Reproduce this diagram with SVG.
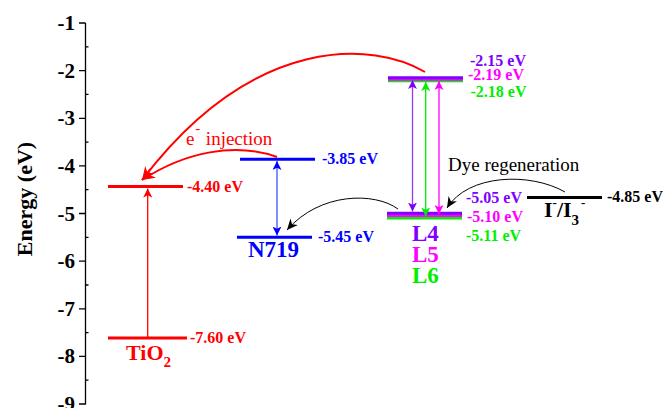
<svg xmlns="http://www.w3.org/2000/svg" width="663" height="408" viewBox="0 0 663 408">
<style>
text{font-family:"Liberation Serif","Times New Roman",serif;}
.b{font-weight:bold;}
.tick{font-size:21px;font-weight:bold;text-anchor:end;fill:#000;}
.lab{font-size:16px;font-weight:bold;}
.lvl{stroke-width:3;fill:none;}
.thin{stroke-width:1.3;fill:none;}
.ax{stroke:#000;stroke-width:1.3;fill:none;}
</style>
<defs>
<marker id="aR" viewBox="0 0 10 10" refX="10" refY="5" markerWidth="9" markerHeight="9" markerUnits="userSpaceOnUse" orient="auto"><path d="M0,0 L10,5 L0,10 L2.5,5 Z" fill="#FF0000"/></marker>
<marker id="aRb" viewBox="0 0 10 10" refX="10" refY="5" markerWidth="13" markerHeight="13" markerUnits="userSpaceOnUse" orient="auto"><path d="M0,0.5 L10,5 L0,9.5 L3,5 Z" fill="#FF0000"/></marker>
<marker id="aB" viewBox="0 0 10 10" refX="10" refY="5" markerWidth="9" markerHeight="9" markerUnits="userSpaceOnUse" orient="auto-start-reverse"><path d="M0,0 L10,5 L0,10 L2.5,5 Z" fill="#0000FF"/></marker>
<marker id="aP" viewBox="0 0 10 10" refX="10" refY="5" markerWidth="9" markerHeight="9" markerUnits="userSpaceOnUse" orient="auto-start-reverse"><path d="M0,0 L10,5 L0,10 L2.5,5 Z" fill="#8000FF"/></marker>
<marker id="aM" viewBox="0 0 10 10" refX="10" refY="5" markerWidth="9" markerHeight="9" markerUnits="userSpaceOnUse" orient="auto-start-reverse"><path d="M0,0 L10,5 L0,10 L2.5,5 Z" fill="#FF00FF"/></marker>
<marker id="aG" viewBox="0 0 10 10" refX="10" refY="5" markerWidth="9" markerHeight="9" markerUnits="userSpaceOnUse" orient="auto-start-reverse"><path d="M0,0 L10,5 L0,10 L2.5,5 Z" fill="#00EE00"/></marker>
<marker id="aK" viewBox="0 0 10 10" refX="10" refY="5" markerWidth="11" markerHeight="11" markerUnits="userSpaceOnUse" orient="auto"><path d="M0,0.5 L10,5 L0,9.5 L3,5 Z" fill="#000"/></marker>
</defs>

<g id="axis">
<path class="ax" d="M85.5,23 V404.5"/>
<path class="ax" d="M79,23 H85.5 M79,70.6 H85.5 M79,118.3 H85.5 M79,165.9 H85.5 M79,213.5 H85.5 M79,261.1 H85.5 M79,308.8 H85.5 M79,356.4 H85.5 M79,404 H85.5"/>
<path class="ax" d="M85.5,46.8 H88.5 M85.5,94.4 H88.5 M85.5,142.1 H88.5 M85.5,189.7 H88.5 M85.5,237.3 H88.5 M85.5,285 H88.5 M85.5,332.6 H88.5 M85.5,380.2 H88.5"/>
<text class="tick" x="75" y="30">-1</text>
<text class="tick" x="75" y="77.6">-2</text>
<text class="tick" x="75" y="125.3">-3</text>
<text class="tick" x="75" y="172.9">-4</text>
<text class="tick" x="75" y="220.5">-5</text>
<text class="tick" x="75" y="268.1">-6</text>
<text class="tick" x="75" y="315.8">-7</text>
<text class="tick" x="75" y="363.4">-8</text>
<text class="tick" x="75" y="411">-9</text>
<text class="b" font-size="22" text-anchor="middle" transform="translate(32,199) rotate(-90)">Energy (eV)</text>
</g>

<g id="tio2">
<line class="lvl" x1="108" y1="186.5" x2="183" y2="186.5" stroke="#FF0000"/>
<line class="lvl" x1="108" y1="338" x2="187" y2="338" stroke="#FF0000"/>
<text class="lab" x="187" y="191.5" fill="#FF0000">-4.40 eV</text>
<text class="lab" x="190" y="343" fill="#FF0000">-7.60 eV</text>
<text class="b" x="126" y="360" font-size="22" fill="#FF0000">TiO<tspan font-size="15" dy="7">2</tspan></text>
</g>

<g id="n719">
<line class="lvl" x1="240" y1="159.3" x2="315" y2="159.3" stroke="#0000FF"/>
<line class="lvl" x1="237" y1="237.3" x2="312" y2="237.3" stroke="#0000FF"/>
<text class="lab" x="322" y="163.5" fill="#0000FF">-3.85 eV</text>
<text class="lab" x="318" y="241.5" fill="#0000FF">-5.45 eV</text>
<text class="b" x="248" y="257" font-size="23" fill="#0000FF">N719</text>
</g>

<g id="dyes">
<line class="lvl" x1="388" y1="80.7" x2="463" y2="80.7" stroke="#00EE00"/>
<line class="lvl" x1="388" y1="79.3" x2="463" y2="79.3" stroke="#FF00FF"/>
<line class="lvl" x1="388" y1="77.8" x2="463" y2="77.8" stroke="#8000FF"/>
<line class="lvl" x1="387" y1="218" x2="462" y2="218" stroke="#00EE00"/>
<line class="lvl" x1="387" y1="215.6" x2="462" y2="215.6" stroke="#FF00FF"/>
<line class="lvl" x1="387" y1="213.2" x2="462" y2="213.2" stroke="#8000FF"/>
<text class="lab" x="470" y="65.5" fill="#8000FF">-2.15 eV</text>
<text class="lab" x="468" y="80" fill="#FF00FF">-2.19 eV</text>
<text class="lab" x="470.5" y="97" fill="#00EE00">-2.18 eV</text>
<text class="lab" x="466" y="203" fill="#8000FF">-5.05 eV</text>
<text class="lab" x="467" y="221.5" fill="#FF00FF">-5.10 eV</text>
<text class="lab" x="466" y="240.5" fill="#00EE00">-5.11 eV</text>
<text class="b" x="412" y="241" font-size="23" fill="#8000FF">L4</text>
<text class="b" x="412" y="262" font-size="23" fill="#FF00FF">L5</text>
<text class="b" x="412" y="283" font-size="23" fill="#00EE00">L6</text>
</g>

<g id="redox">
<line class="lvl" x1="527" y1="197.5" x2="602" y2="197.5" stroke="#000"/>
<text class="lab" x="607" y="202" fill="#000">-4.85 eV</text>
<text class="b" x="544" y="217" font-size="22" fill="#000">I<tspan font-size="13" dy="-10">-</tspan><tspan dy="10">/I</tspan><tspan font-size="15" dy="8">3</tspan><tspan font-size="13" dy="-18" dx="2">-</tspan></text>
</g>

<g id="labels">
<text x="186" y="145" font-size="19" fill="#FF0000">e<tspan font-size="14" dy="-12" dx="1">-</tspan><tspan dy="12" dx="1"> injection</tspan></text>
<text x="448" y="171" font-size="19" fill="#000">Dye regeneration</text>
</g>

<g id="connectors">
<line class="thin" x1="147.7" y1="338" x2="147.7" y2="188.5" stroke="#FF0000" marker-end="url(#aR)"/>
<line class="thin" x1="277" y1="161" x2="277" y2="235.5" stroke="#3355FF" marker-start="url(#aB)" marker-end="url(#aB)"/>
<line class="thin" x1="412.5" y1="80" x2="412.5" y2="211.5" stroke="#9933FF" marker-start="url(#aP)" marker-end="url(#aP)"/>
<line class="thin" x1="425.7" y1="82" x2="425.7" y2="216.5" stroke="#00EE00" marker-start="url(#aG)" marker-end="url(#aG)"/>
<line class="thin" x1="439" y1="81" x2="439" y2="214" stroke="#FF00FF" marker-start="url(#aM)" marker-end="url(#aM)"/>
<path d="M425,72 C375,42 255,32 142,180" stroke="#FF0000" stroke-width="2" fill="none" marker-end="url(#aRb)"/>
<path d="M277,157 C235,142 185,152 142,180" stroke="#FF0000" stroke-width="2" fill="none" marker-end="url(#aRb)"/>
<path d="M398,209 C375,192 320,192 287,230" stroke="#000" stroke-width="1" fill="none" marker-end="url(#aK)"/>
<path d="M565,192 C530,172 468,174 447,208" stroke="#000" stroke-width="1" fill="none" marker-end="url(#aK)"/>
</g>
</svg>
